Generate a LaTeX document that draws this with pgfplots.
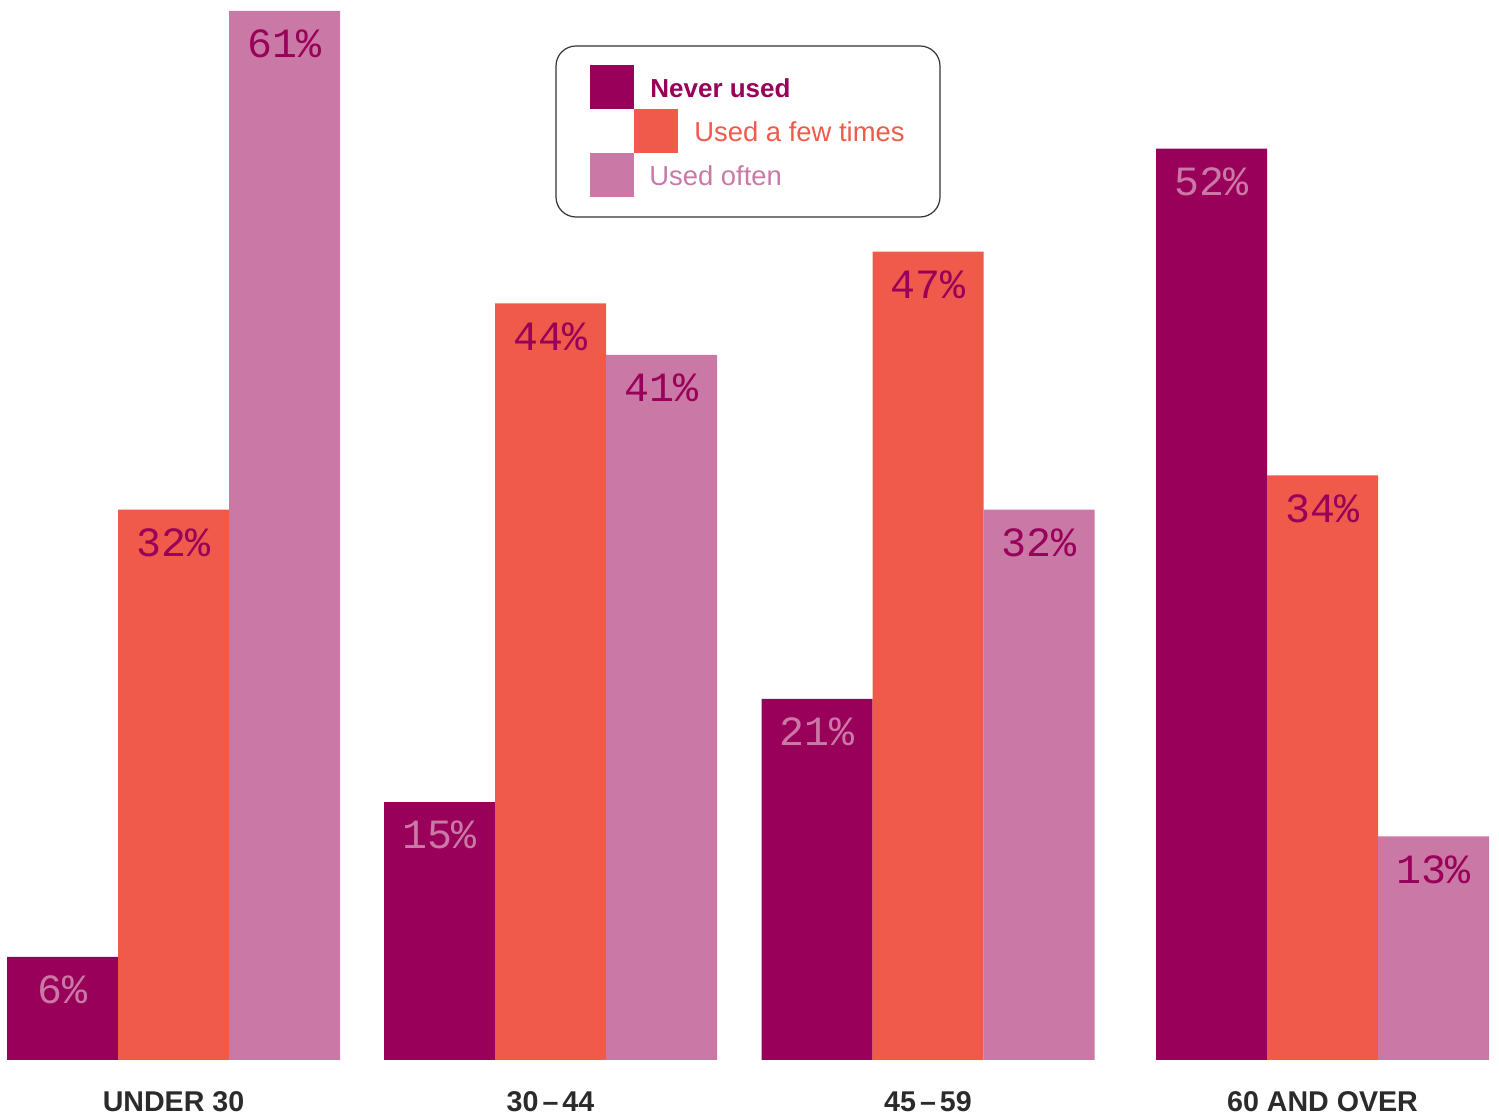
\documentclass[border=0pt]{standalone}
\usepackage{pgfplots}
\pgfplotsset{compat=1.18}
\usepackage{fontspec}
\setmainfont{Liberation Sans}
\newfontfamily\monof{Liberation Mono}
\definecolor{cnever}{HTML}{990059}
\definecolor{cfew}{HTML}{F05A4B}
\definecolor{coften}{HTML}{CA79A6}
\definecolor{ctick}{HTML}{2B2B2B}
\begin{document}
\begin{tikzpicture}
\path[use as bounding box] (-3.5pt,-28.5pt) rectangle (746pt,530pt);
\begin{axis}[
  at={(0,0)}, anchor=south west,
  scale only axis, width=741pt, height=524.5pt,
  xmin=7, xmax=1489, ymin=0, ymax=61,
  axis line style={draw=none}, tick style={draw=none},
  ytick=\empty,
  xtick={173.5,550.5,928,1322.5},
  xticklabels={UNDER 30,30\hspace{2pt}–\hspace{2pt}44,45\hspace{2pt}–\hspace{2pt}59,60 AND OVER},
  xticklabel style={font=\bfseries\fontsize{14.3}{16}\selectfont, text=ctick, anchor=north, yshift=-8pt},
  ybar, bar width=111,
  point meta=explicit,
  nodes near coords={\monof\pgfmathprintnumber[assume math mode=true]{\pgfplotspointmeta}\%},
  every node near coord/.append style={anchor=north, yshift=-6pt, font=\monof\fontsize{20.8}{22}\selectfont},
  clip=false,
]
\addplot[fill=cnever, draw=none, bar shift=-111, every node near coord/.append style={text=coften}]
  coordinates {(173.5,6)[6] (550.5,15)[15] (928,21)[21] (1322.5,53)[52]};
\addplot[fill=cfew, draw=none, bar shift=0, every node near coord/.append style={text=cnever}]
  coordinates {(173.5,32)[32] (550.5,44)[44] (928,47)[47] (1322.5,34)[34]};
\addplot[fill=coften, draw=none, bar shift=111, every node near coord/.append style={text=cnever}]
  coordinates {(173.5,61)[61] (550.5,41)[41] (928,32)[32] (1322.5,13)[13]};
\end{axis}
\begin{scope}[x=0.5pt, y=-0.5pt, shift={(-3.5pt,530pt)}]
  \draw[draw=black!80, line width=0.6pt, rounded corners=10pt] (556,46) rectangle (940,217);
  \fill[cnever] (590,65) rectangle (634,109);
  \fill[cfew] (634,109) rectangle (678,153);
  \fill[coften] (590,153) rectangle (634,197);
  \node[anchor=west, inner sep=0pt, text=cnever, font=\bfseries\fontsize{13}{15}\selectfont] at (650,88) {Never used};
  \node[anchor=west, inner sep=0pt, text=cfew, font=\fontsize{13.7}{15}\selectfont] at (694,132) {Used a few times};
  \node[anchor=west, inner sep=0pt, text=coften, font=\fontsize{13.7}{15}\selectfont] at (649,176) {Used often};
\end{scope}
\end{tikzpicture}
\end{document}
